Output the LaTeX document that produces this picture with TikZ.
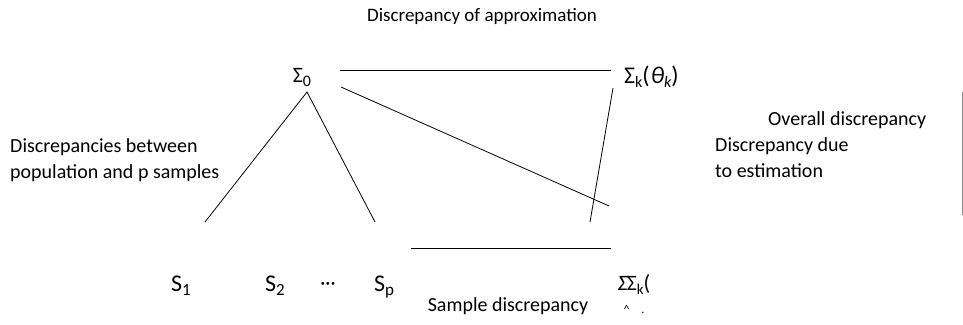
\documentclass[tikz,border=0pt]{standalone}
\usepackage{fontspec}
\setmainfont{Carlito}
\newcommand{\mysub}[2]{\raisebox{-0.4ex}{\fontsize{#1}{#1}\selectfont #2}}
\begin{document}
\begin{tikzpicture}[x=1pt,y=-1pt,
  lbl/.style={font=\fontsize{20}{26}\selectfont, inner sep=0pt},
  sym/.style={font=\fontsize{22}{24}\selectfont, inner sep=0pt},
  ess/.style={font=\fontsize{24}{26}\selectfont, inner sep=0pt},
  conn/.style={draw=black, line width=0.8pt}]
\useasboundingbox (0,0) rectangle (963,324);
% texts
\node[lbl, font=\fontsize{19}{24}\selectfont, anchor=base] (tapprox) at (482,21) {Discrepancy of approximation};
\node[lbl, anchor=base west, align=left] (tpop) at (10,178) {Discrepancies between\\population and p samples};
\node[lbl, anchor=base west] (toverall) at (768,125) {Overall discrepancy};
\node[lbl, anchor=base west, align=left] (test) at (715,177) {Discrepancy due\\to estimation};
\node[lbl, anchor=base] (tsample) at (508,311) {Sample discrepancy};
% symbols
\node[sym, anchor=base] (s0) at (302,82) {Σ\mysub{16}{0}};
\node[sym, font=\fontsize{24}{26}\selectfont, anchor=base west] (sk) at (624,83) {Σ\mysub{16}{k}(\kern1pt{\itshape θ}\mysub{16}{\itshape k})};
\node[ess, anchor=base] (s1) at (181,291) {S\mysub{17}{1}};
\node[ess, anchor=base] (s2) at (275,291) {S\mysub{17}{2}};
\node[lbl, anchor=base] (dots) at (328,289) {···};
\node[ess, anchor=base] (sp) at (384,291) {S\mysub{17}{p}};
\node[sym, anchor=base] (shat) at (634,290) {{\itshape Σ}\kern-1ptΣ\mysub{15}{k}(};
\node[font=\fontsize{12}{12}\selectfont, inner sep=0pt] (hat) at (634,309) {\^{}\hspace{12pt}.};
% connectors
\coordinate (a1) at (340,70);
\coordinate (a2) at (611,70);
\coordinate (b1) at (341,87);
\coordinate (b2) at (609,206);
\coordinate (c1) at (613,88);
\coordinate (c2) at (590,222);
\coordinate (d0) at (307,92);
\coordinate (d1) at (205,222);
\coordinate (d2) at (375,222);
\coordinate (e1) at (411,248);
\coordinate (e2) at (611,248);
\coordinate (g1) at (962,92);
\coordinate (g2) at (962,215);
\draw[conn] (a1) -- (a2);
\draw[conn] (b1) -- (b2);
\draw[conn] (c1) -- (c2);
\draw[conn] (d1) -- (d0) -- (d2);
\draw[conn] (e1) -- (e2);
\draw[draw=black!45, line width=1pt] (g1) -- (g2);
\end{tikzpicture}
\end{document}
